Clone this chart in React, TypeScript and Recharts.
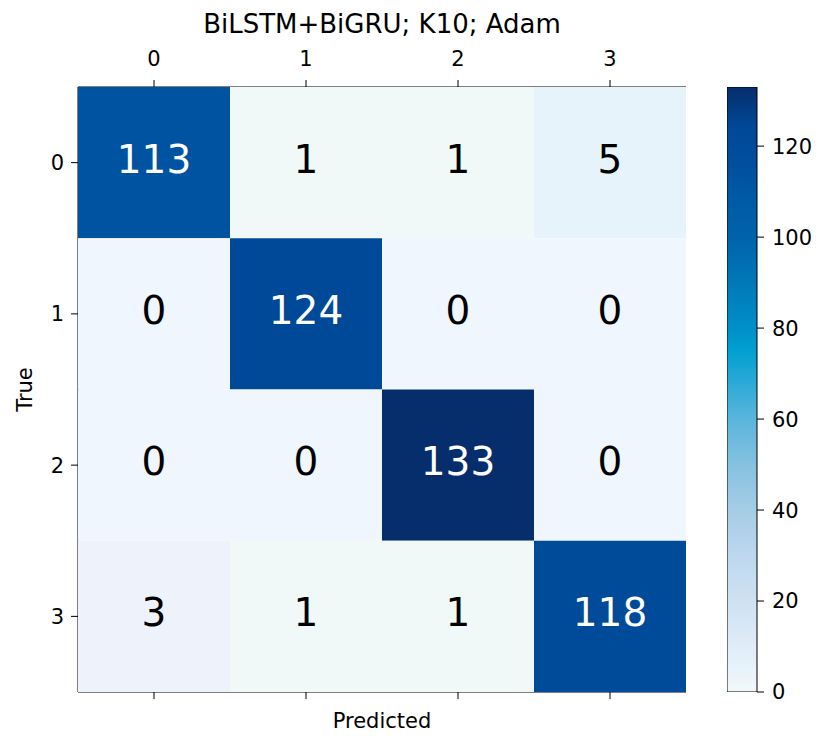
import { Bar, BarChart, Scatter, ScatterChart, XAxis, YAxis } from 'recharts'

const classes = [0, 1, 2, 3]
const matrix = [
  [113, 1, 1, 5],
  [0, 124, 0, 0],
  [0, 0, 133, 0],
  [3, 1, 1, 118],
]
const colorTicks = [0, 20, 40, 60, 80, 100, 120]
const vmax = 133
const title = 'BiLSTM+BiGRU; K10; Adam'

const cmap: [number, string][] = [
  [0, '#eff6fd'], [1, '#f0f9f8'], [3, '#eef2fa'], [5, '#e6f3fa'],
  [10, '#e0ecf7'], [20, '#cfe1f2'], [30, '#bdd7ee'], [40, '#a5cde6'],
  [50, '#85c1e0'], [60, '#5ab5dc'], [70, '#20a6d6'], [75, '#00a0d0'],
  [80, '#0090c8'], [90, '#0078b8'], [100, '#0063aa'], [110, '#0058a4'],
  [113, '#0053a0'], [120, '#004a9a'], [124, '#004898'], [133, '#062e6c'],
]

const FONT = 'DejaVu Sans, sans-serif'
const W = 819
const H = 736
const PLOT = { left: 78, right: 686, top: 87, bottom: 692 }
const cellW = (PLOT.right - PLOT.left) / classes.length
const cellH = (PLOT.bottom - PLOT.top) / classes.length

function colorFor(v: number) {
  for (let i = 0; i < cmap.length; i++) if (cmap[i][0] >= v) return cmap[i][1]
  return cmap[cmap.length - 1][1]
}

const cells = matrix.flatMap((row, r) => row.map((v, c) => ({ x: c, y: r, v })))

const Cell = (p: any) => {
  const { cx, cy, payload } = p
  return (
    <g>
      <rect x={cx - cellW / 2} y={cy - cellH / 2} width={cellW} height={cellH} fill={colorFor(payload.v)} />
      <text x={cx} y={cy + 10} textAnchor="middle" fontSize={39} fontFamily={FONT}
        fill={payload.v > vmax / 2 ? '#fff' : '#000'}>{payload.v}</text>
    </g>
  )
}

const tickStyle = { fontSize: 21, fill: '#000', fontFamily: FONT }

export default function App() {
  return (
    <div style={{ position: 'absolute', left: 0, top: 0, width: W, height: H, background: '#fff' }}>
      <ScatterChart width={W} height={H} margin={{ top: 0, right: W - PLOT.right, bottom: 0, left: 0 }}>
        <XAxis xAxisId="t" dataKey="x" type="number" orientation="top" height={PLOT.top}
          domain={[-0.5, 3.5]} ticks={classes} tick={tickStyle} tickSize={7} tickMargin={14}
          stroke="#000" allowDataOverflow />
        <XAxis xAxisId="b" dataKey="x" type="number" orientation="bottom" height={H - PLOT.bottom}
          domain={[-0.5, 3.5]} ticks={classes} tickFormatter={() => ''} tickSize={7}
          stroke="#000" allowDataOverflow
          label={{ value: 'Predicted', position: 'insideBottom', offset: 8, fontSize: 21, fill: '#000', fontFamily: FONT }} />
        <YAxis yAxisId="l" dataKey="y" type="number" width={PLOT.left} reversed
          domain={[-0.5, 3.5]} ticks={classes} tick={tickStyle} tickSize={7} tickMargin={7}
          stroke="#000" allowDataOverflow
          label={{ value: 'True', angle: -90, position: 'center', dx: -14, fontSize: 21, fill: '#000', fontFamily: FONT }} />
        <YAxis yAxisId="r" dataKey="y" type="number" orientation="right" width={0}
          domain={[-0.5, 3.5]} tick={false} stroke="#000" />
        <Scatter xAxisId="t" yAxisId="l" data={cells} shape={Cell} isAnimationActive={false} />
        <Scatter xAxisId="b" yAxisId="r" data={[]} isAnimationActive={false} />
      </ScatterChart>
      <div style={{ position: 'absolute', left: 0, top: 9, width: PLOT.left + PLOT.right, textAlign: 'center',
        fontFamily: FONT, fontSize: 26, lineHeight: 'normal', color: '#000' }}>{title}</div>
      <div style={{ position: 'absolute', left: 727, top: 0 }}>
        <BarChart width={92} height={H} data={[{ name: 'cb', v: vmax }]} barCategoryGap={0}
          margin={{ top: PLOT.top, bottom: H - PLOT.bottom, left: 0, right: 0 }}>
          <defs>
            <linearGradient id="cbar" x1="0" y1="1" x2="0" y2="0">
              {cmap.map(([v, c]) => <stop key={v} offset={`${(v / vmax) * 100}%`} stopColor={c} />)}
            </linearGradient>
          </defs>
          <XAxis dataKey="name" hide />
          <YAxis orientation="right" width={62} domain={[0, vmax]} ticks={colorTicks} allowDataOverflow
            tick={tickStyle} tickSize={7} tickMargin={8} axisLine={false} stroke="#000" />
          <Bar dataKey="v" fill="url(#cbar)" stroke="#000" strokeWidth={1} isAnimationActive={false} />
        </BarChart>
      </div>
    </div>
  )
}
